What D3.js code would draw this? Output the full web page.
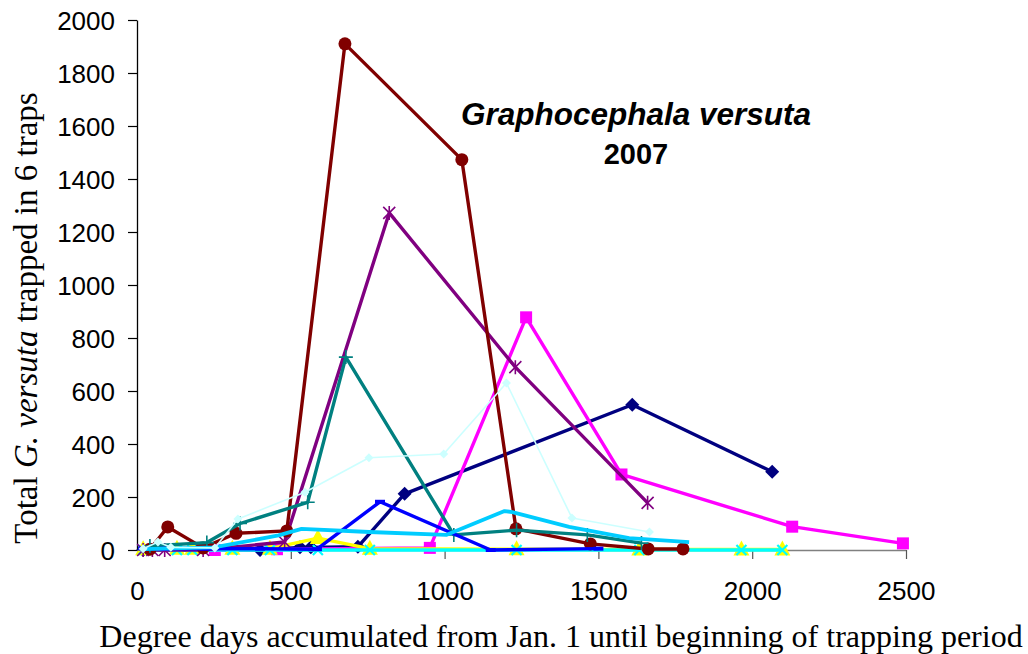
<!DOCTYPE html>
<html><head><meta charset="utf-8">
<script src="https://cdn.jsdelivr.net/npm/d3@7"></script>
<style>body{margin:0;background:#fff}svg{display:block}</style>
</head><body>
<svg id="c" width="1028" height="654"></svg>
<script>
// ---- data ----
const xTicks = [0, 500, 1000, 1500, 2000, 2500];
const yTicks = [0, 200, 400, 600, 800, 1000, 1200, 1400, 1600, 1800, 2000];
const navyDiamond = [[20,0],[400,0],[530,10],[565,10],[718,12],[870,212],[1610,548],[2065,295]];
const magentaSquare = [[253,0],[455,3],[952,8],[1265,878],[1575,285],[2130,88],[2490,25]];
const yellowTriangle = [[20,3],[130,5],[180,5],[310,5],[432,5],[588,45],[757,5],[1234,3],[1633,2],[1965,2],[2098,2]];
const cyanX = [[20,0],[130,0],[180,0],[310,0],[432,0],[588,0],[757,0],[1234,0],[1633,0],[1965,0],[2098,0]];
const purpleStar = [[20,0],[50,0],[90,0],[215,0],[480,30],[820,1272],[1230,690],[1660,178]];
const darkRedCircle = [[42,3],[100,87],[215,8],[322,63],[487,72],[676,1910],[1056,1473],[1232,80],[1474,23],[1662,4],[1775,4]];
const tealPlus = [[42,15],[227,28],[335,100],[555,180],[679,728],[1030,57],[1234,75],[1464,57],[1640,26]];
const blueDash = [[20,5],[90,5],[220,5],[400,5],[585,3],[790,182],[1150,0],[1500,5]];
const skyBlue = [[20,3],[250,10],[460,55],[535,80],[755,68],[1005,57],[1195,147],[1220,143],[1405,87],[1600,45],[1795,30]];
const lightCyan = [[20,5],[68,30],[110,10],[253,8],[328,117],[546,218],[754,348],[997,362],[1201,630],[1414,121],[1666,68]];

const seriesList = [
  {data: navyDiamond, color:"#000080", marker:"diamond", w:3.4},
  {data: magentaSquare, color:"#FF00FF", marker:"square", w:3.4},
  {data: yellowTriangle, color:"#FFFF00", marker:"triangle", w:3.4},
  {data: cyanX, color:"#00FFFF", marker:"x", w:3.4},
  {data: purpleStar, color:"#800080", marker:"star", w:3.4},
  {data: darkRedCircle, color:"#800000", marker:"circle", w:3.4},
  {data: tealPlus, color:"#008080", marker:"plus", w:3.4},
  {data: blueDash, color:"#0000FF", marker:"dash", w:3.4},
  {data: skyBlue, color:"#00CCFF", marker:"none", w:3.8},
  {data: lightCyan, color:"#CCFFFF", marker:"smalldiamond", w:1.6}
];

const svg = d3.select("#c");
const x = d3.scaleLinear().domain([0,2500]).range([137,906]);
const y = d3.scaleLinear().domain([0,2000]).range([550,20]);

// axes
const gx = svg.append("g").attr("transform","translate(0,550)")
  .call(d3.axisBottom(x).tickValues(xTicks).tickSize(9).tickSizeOuter(0).tickFormat(d3.format("d")));
gx.select(".domain").attr("stroke","#808080").attr("stroke-width",1.3);
gx.selectAll(".tick line").attr("stroke","#555").attr("stroke-width",1.2);
gx.selectAll(".tick text").attr("font-family","Liberation Sans, Arial, sans-serif")
  .attr("font-size",26).attr("fill","#000").attr("y",50).attr("dy",0);
gx.selectAll(".tick").filter(d=>d===0).select("line").remove();

const gy = svg.append("g").attr("transform","translate(137,0)")
  .call(d3.axisLeft(y).tickValues(yTicks).tickSize(9).tickSizeOuter(0).tickFormat(d3.format("d")));
gy.select(".domain").attr("stroke","#000").attr("stroke-width",1.3);
gy.selectAll(".tick line").attr("stroke","#000").attr("stroke-width",1.2);
gy.selectAll(".tick text").attr("font-family","Liberation Sans, Arial, sans-serif")
  .attr("font-size",26).attr("fill","#000").attr("x",-22).attr("dy","0.35em");

// series
const line = d3.line().x(d=>x(d[0])).y(d=>y(d[1]));
const plot = svg.append("g");
seriesList.forEach(s=>{
  plot.append("path").datum(s.data).attr("d",line).attr("fill","none")
    .attr("stroke",s.color).attr("stroke-width",s.w).attr("stroke-linejoin","round");
  const g = plot.append("g");
  s.data.forEach(d=>{
    const px = x(d[0]), py = y(d[1]);
    switch(s.marker){
      case "diamond":
        g.append("path").attr("d",`M${px},${py-7}L${px+7},${py}L${px},${py+7}L${px-7},${py}Z`).attr("fill",s.color); break;
      case "smalldiamond":
        g.append("path").attr("d",`M${px},${py-4.5}L${px+4.5},${py}L${px},${py+4.5}L${px-4.5},${py}Z`).attr("fill",s.color); break;
      case "square":
        g.append("rect").attr("x",px-6).attr("y",py-6).attr("width",12).attr("height",12).attr("fill",s.color); break;
      case "triangle":
        g.append("path").attr("d",`M${px},${py-9}L${px+8},${py+6}L${px-8},${py+6}Z`).attr("fill",s.color); break;
      case "x":
        g.append("path").attr("d",`M${px-5},${py-5}L${px+5},${py+5}M${px+5},${py-5}L${px-5},${py+5}`).attr("stroke",s.color).attr("stroke-width",2.2); break;
      case "star":
        g.append("path").attr("d",`M${px-6},${py-6}L${px+6},${py+6}M${px+6},${py-6}L${px-6},${py+6}M${px},${py-7}L${px},${py+7}`).attr("stroke",s.color).attr("stroke-width",1.6); break;
      case "circle":
        g.append("circle").attr("cx",px).attr("cy",py).attr("r",6.5).attr("fill",s.color); break;
      case "plus":
        g.append("path").attr("d",`M${px-7},${py}L${px+7},${py}M${px},${py-7}L${px},${py+7}`).attr("stroke",s.color).attr("stroke-width",1.6); break;
      case "dash":
        g.append("path").attr("d",`M${px-5},${py}L${px+5},${py}`).attr("stroke",s.color).attr("stroke-width",4); break;
    }
  });
});

// titles
svg.append("text").attr("x",636).attr("y",125).attr("text-anchor","middle")
  .attr("font-family","Liberation Sans, Arial, sans-serif").attr("font-size",31.5)
  .attr("font-weight","bold").attr("font-style","italic").text("Graphocephala versuta");
svg.append("text").attr("x",636).attr("y",164).attr("text-anchor","middle")
  .attr("font-family","Liberation Sans, Arial, sans-serif").attr("font-size",29)
  .attr("font-weight","bold").text("2007");

const yl = svg.append("text").attr("transform","translate(37,318) rotate(-90)")
  .attr("text-anchor","middle").attr("font-family","Liberation Serif, Times New Roman, serif")
  .attr("font-size",33);
yl.append("tspan").text("Total ");
yl.append("tspan").attr("font-style","italic").text("G. versuta");
yl.append("tspan").text(" trapped in 6 traps");

svg.append("text").attr("x",561).attr("y",647).attr("text-anchor","middle")
  .attr("font-family","Liberation Serif, Times New Roman, serif").attr("font-size",32)
  .text("Degree days accumulated from Jan. 1 until beginning of trapping period");
</script>
</body></html>
